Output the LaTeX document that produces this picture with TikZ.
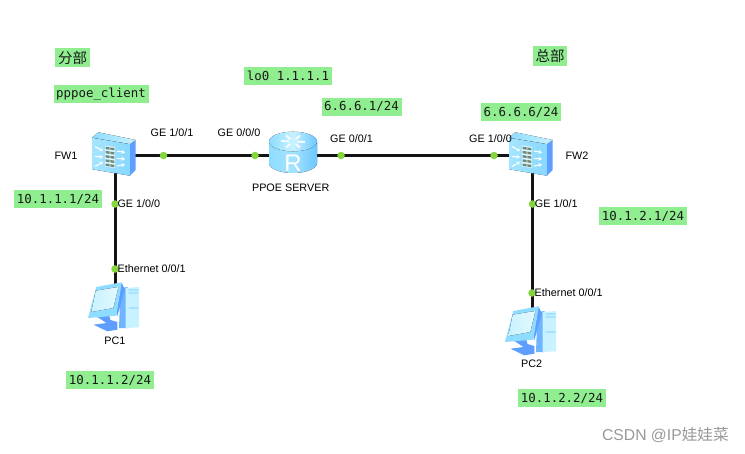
\documentclass[tikz,border=0pt]{standalone}
\usepackage{fontspec}
\setmainfont{Liberation Sans}
\newfontfamily\codefont{DejaVu Sans Mono}
\newfontfamily\cjkfont{Noto Sans CJK SC}
\usetikzlibrary{arrows.meta}
\definecolor{tagbg}{HTML}{90EE90}
\definecolor{portdot}{HTML}{84D63C}
\definecolor{iconside}{HTML}{5E9EFF}
\definecolor{iconlight}{HTML}{C8F2FF}
\definecolor{iconmid}{HTML}{8EDCFF}
\definecolor{icondeep}{HTML}{6CC6FF}
\definecolor{brick}{HTML}{6F8A7C}
\tikzset{
  tag/.style={fill=tagbg,inner sep=0pt,anchor=center,font=\fontsize{12.4}{14}\codefont,text=black!90},
  cjktag/.style={tag,font=\fontsize{14.5}{16}\cjkfont},
  lbl/.style={inner sep=0pt,font=\fontsize{10.8}{12}\selectfont,text=black},
  lblw/.style={lbl,anchor=west},
  port/.style={circle,fill=portdot,inner sep=0pt,minimum size=7.5pt},
  device/.style={inner sep=0pt,minimum size=1pt},
  wire/.style={line width=2.3pt,draw=black!92},
  whitearrow/.style={white,line width=1.1pt,-{Stealth[length=3.4pt,width=4pt]}},
  pics/firewall/.style={code={
    \fill[left color=iconlight!40!iconmid,right color=iconmid!80!icondeep] (-23.2,-17.8) -- (14.5,-11.5) -- (14.5,20.2) -- (-23.2,13.8) -- cycle;
    \fill[iconside] (14.5,-11.5) -- (20.2,-15.5) -- (20.2,14.5) -- (14.5,20.2) -- cycle;
    \fill[left color=iconmid,right color=iconlight] (-23.2,-17.8) -- (-17.2,-23.2) -- (20.2,-15.5) -- (14.5,-11.5) -- cycle;
    \fill[iconlight!60!white] (-10.5,-10) -- (-0.5,-8.5) -- (-0.5,12.5) -- (-10.5,11) -- cycle;
    \foreach \r in {0,...,4}{
      \fill[brick] (-9.8,{-8.8+4.2*\r}) -- (-5.8,{-8.2+4.2*\r}) -- (-5.8,{-5.8+4.2*\r}) -- (-9.8,{-6.4+4.2*\r}) -- cycle;
      \fill[brick] (-5.2,{-8.1+4.2*\r}) -- (-1.2,{-7.5+4.2*\r}) -- (-1.2,{-5.1+4.2*\r}) -- (-5.2,{-5.7+4.2*\r}) -- cycle;
    }
    \foreach \ya/\yb in {-9/-4.5,1/1.5,11/6.5}{
      \draw[whitearrow] (-20.5,\ya) -- (-12.5,\yb);
    }
    \foreach \ya/\yb in {-4.5/-3,3/3.5,10.5/9}{
      \draw[whitearrow] (1.5,\ya) -- (9.5,\yb);
    }
  }},
  pics/routerbody/.style={code={
    \fill[left color=iconmid,right color=icondeep,middle color=iconmid!80!white] (-24,-14) -- (-24,7.5) arc[start angle=180,end angle=360,x radius=24pt,y radius=10pt] -- (24,-14) -- cycle;
    \fill[left color=iconmid,right color=icondeep,middle color=iconlight] (0,-14) ellipse[x radius=24pt,y radius=9.8pt];
    \foreach \a/\b in {-12/-14.5,12/-13.5,-7/-20,7/-20,-7/-8,7/-8}{
      \draw[white!85!iconlight,line width=1.8pt] ({\a*.35},{-14+(\b+14)*.35}) -- (\a,\b);
    }
    \node[inner sep=0pt,text=white,font=\fontsize{24}{26}\selectfont] at (0,7.5) {R};
  }},
  pics/workstation/.style={code={
    % tower case: left panel, front, and its slots
    \fill[iconside!65!iconmid] (5,-17) -- (12,-18) -- (12,23) -- (3.5,23) -- cycle;
    \fill[iconlight] (10,-17) -- (23.5,-18) -- (23.5,22.3) -- (10,23) -- cycle;
    \fill[icondeep] (13,-15.5) rectangle (23,-14.6) (13,-12.5) rectangle (23,-11.6) (13,2.5) rectangle (23,3.4);
    % stand and base
    \fill[iconside] (-21,10) -- (-7,8) -- (-5,15) -- (1.8,17) -- (1.8,24.7) -- (-8.2,26.3) -- (-22,19.7) -- (-9,18) -- cycle;
    % monitor casing and screen
    \fill[iconside] (6.2,-22.7) -- (9.2,-15.3) -- (1.8,11.3) -- (0.8,8) -- cycle;
    \fill[iconmid] (-19.2,-18) -- (6.2,-22.7) -- (0.8,10.7) -- (-27.5,13) -- cycle;
    \fill[left color=iconlight,right color=iconlight!50!white] (-19.8,-14.3) -- (2.8,-18) -- (-2.2,3) -- (-24.2,7) -- cycle;
  }},
}
\begin{document}
\begin{tikzpicture}[x=1pt,y=-1pt]
\useasboundingbox (0,0) rectangle (745,453);
\fill[white] (0,0) rectangle (745,453);

% device anchors
\node[device] (fw1) at (115.5,155.5) {};
\node[device] (fw2) at (532.5,155.5) {};
\node[device] (srv) at (293,155.5) {};
\node[device] (pc1) at (115.5,305) {};
\node[device] (pc2) at (532.5,329) {};

% links
\draw[wire] (fw1) -- (srv);
\draw[wire] (srv) -- (fw2);
\draw[wire] (fw1) -- (pc1);
\draw[wire] (fw2) -- (pc2);

% device icons
\pic at (fw1) {firewall};
\pic at (fw2) {firewall};
\pic at (srv) {routerbody};
\pic at (pc1) {workstation};
\pic at (pc2) {workstation};

% interface markers
\node[port] (p1) at (163.5,155.5) {};
\node[port] (p2) at (255,155.5) {};
\node[port] (p3) at (341,155.5) {};
\node[port] (p4) at (494,155.5) {};
\node[port] (p5) at (115,204) {};
\node[port] (p6) at (532.5,204) {};
\node[port] (p7) at (115,269) {};
\node[port] (p8) at (532,293) {};

% interface and device names
\node[lbl] (l1) at (172,133) {GE 1/0/1};
\node[lbl] (l2) at (239,133) {GE 0/0/0};
\node[lbl] (l3) at (351.5,139) {GE 0/0/1};
\node[lbl] (l4) at (490.5,139) {GE 1/0/0};
\node[lblw] (l5) at (117.3,204) {GE 1/0/0};
\node[lblw] (l6) at (534.7,204) {GE 1/0/1};
\node[lblw] (l7) at (117.5,269) {Ethernet 0/0/1};
\node[lblw] (l8) at (534.5,293) {Ethernet 0/0/1};
\node[lbl] (n1) at (66,155.7) {FW1};
\node[lbl] (n2) at (577,155.7) {FW2};
\node[lbl] (n3) at (290.7,188) {PPOE SERVER};
\node[lbl] (n4) at (115,340.7) {PC1};
\node[lbl] (n5) at (531.7,364) {PC2};

% address notes
\node[cjktag,minimum width=34.5pt,minimum height=19pt] (t1) at (72.7,57.5) {分部};
\node[cjktag,minimum width=34pt,minimum height=20pt] (t2) at (550,56) {总部};
\node[tag,minimum width=95pt,minimum height=18pt] (t3) at (101,94) {pppoe\_client};
\node[tag,minimum width=88pt,minimum height=18pt] (t4) at (288,76) {lo0 1.1.1.1};
\node[tag,minimum width=80pt,minimum height=18pt] (t5) at (361.5,106.5) {6.6.6.1/24};
\node[tag,minimum width=80pt,minimum height=18pt] (t6) at (521,112) {6.6.6.6/24};
\node[tag,minimum width=88pt,minimum height=18pt] (t7) at (58,199) {10.1.1.1/24};
\node[tag,minimum width=88pt,minimum height=18pt] (t8) at (643,216) {10.1.2.1/24};
\node[tag,minimum width=88pt,minimum height=18pt] (t9) at (110,380) {10.1.1.2/24};
\node[tag,minimum width=88pt,minimum height=18pt] (t10) at (562,398) {10.1.2.2/24};

% credit line
\node[inner sep=0pt,text=black!40,font=\fontsize{15.7}{17}\selectfont] (w) at (665.5,434.5) {CSDN @IP{\cjkfont 娃娃菜}};
\end{tikzpicture}
\end{document}
